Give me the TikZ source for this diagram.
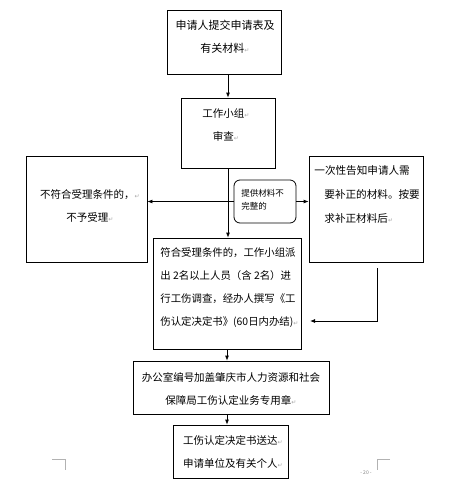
\documentclass[tikz,border=0pt]{standalone}
\usepackage{fontspec}
\setmainfont{Noto Sans CJK SC}
\newfontfamily\symfont{DejaVu Sans}
\usetikzlibrary{arrows.meta}

\newcommand{\pmk}{{\color{gray!70}\symfont\fontsize{6}{6}\selectfont ↵}}

\tikzset{
  box/.style={draw, line width=0.8pt, inner sep=0pt},
  txt/.style={inner sep=0pt, align=center, font=\fontsize{10.5}{23}\selectfont},
}

\begin{document}
\begin{tikzpicture}[x=1pt, y=-1pt, >={Latex[length=5pt,width=4pt]}, line width=0.8pt]
    \useasboundingbox (0,0) rectangle (449,491);
    % frames
    \node[box, minimum width=114pt, minimum height=64pt] (apply) at (224,42) {};
    \node[box, minimum width=94pt, minimum height=70pt] (review) at (228,133) {};
    \node[box, minimum width=121pt, minimum height=106pt] (reject) at (86.5,209) {};
    \node[box, minimum width=114pt, minimum height=106pt] (notify) at (366,209) {};
    \node[box, rounded corners=6pt, minimum width=62pt, minimum height=43pt] (note) at (265,201.5) {};
    \node[box, minimum width=148pt, minimum height=111pt] (check) at (227,293.5) {};
    \node[box, minimum width=196pt, minimum height=53pt] (seal) at (231,387.5) {};
    \node[box, minimum width=115pt, minimum height=53pt] (deliver) at (230.5,451.5) {};
    % texts
    \node[txt, font=\fontsize{11}{23}\selectfont] (apply-t) at (225,36.5) {申请人提交申请表及\\有关材料\pmk};
    \node[txt] (review-t) at (226,124.5) {工作小组\pmk\\审查\pmk};
    \node[txt] (reject-t) at (90,205.5) {不符合受理条件的，\pmk\\不予受理\pmk};
    \node[txt, align=left, anchor=west, font=\fontsize{10.6}{24}\selectfont] (notify-t) at (314,194)
      {一次性告知申请人需\\\hspace*{10pt}要补正的材料。按要\\\hspace*{10pt}求补正材料后\pmk};
    \node[txt, align=left, anchor=west, font=\fontsize{8.5}{13}\selectfont] (note-t) at (241,199.5) {提供材料不\\完整的};
    \node[txt, align=left, anchor=west, font=\fontsize{10.4}{23}\selectfont] (check-t) at (160,287.5)
      {符合受理条件的，工作小组派\\出 2名以上人员（含 2名）进\\行工伤调查，经办人撰写《工\\伤认定决定书》(60日内办结)\pmk};
    \node[txt] (seal-t) at (231,388.5) {办公室编号加盖肇庆市人力资源和社会\\保障局工伤认定业务专用章\pmk};
    \node[txt] (deliver-t) at (233,451.5) {工伤认定决定书送达\pmk\\申请单位及有关个人\pmk};
    % connectors
    \draw[->] (review.north |- apply.south) -- (review.north);
    \draw[->] (review.south) -- (check.north -| review.south);
    \coordinate (split) at (review.south |- note.west);
    \draw[->] (split) -- (reject.east |- split);
    \draw (split) -- (note.west);
    \draw[->] (note.east) -- (notify.west |- note.east);
    \coordinate (back-top) at (377,268);
    \coordinate (back-end) at (310,321);
    \draw[->] (back-top) |- (back-end);
    \draw[->] (check.south) -- (seal.north -| check.south);
    \draw[->] (seal.south -| check.south) -- (deliver.north -| check.south);
    % page marks
    \draw[gray!60, line width=0.4pt] (52,459) -- (65,459) -- (65,470);
    \draw[gray!60, line width=0.4pt] (390,459) -- (377,459) -- (377,470);
    \node[font=\fontsize{5}{5}\selectfont, text=gray] (pageno) at (366,473) {- 20 -};
  \end{tikzpicture}
\end{document}
